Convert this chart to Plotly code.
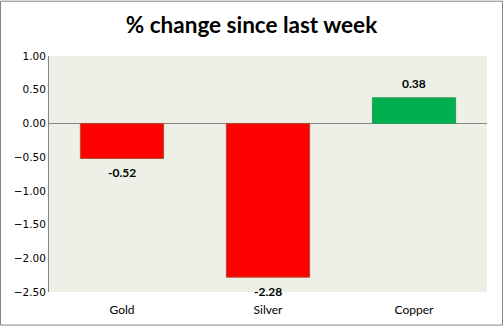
import plotly.graph_objects as go

categories = ["Gold", "Silver", "Copper"]
values = [-0.52, -2.28, 0.38]
bar_colors = ["#FF0000", "#FF0000", "#00B050"]
border_colors = ["#B0502E", "#B0502E", "#2E9A50"]
tick_vals = [1.0, 0.5, 0.0, -0.5, -1.0, -1.5, -2.0, -2.5]
title_text = "% change since last week"

fig = go.Figure()
fig.add_trace(go.Bar(
    x=categories, y=values,
    marker=dict(color=bar_colors, line=dict(color=border_colors, width=1)),
    width=0.57,
))

for c, v in zip(categories, values):
    fig.add_annotation(
        x=c, y=v, text=f"{v:.2f}", showarrow=False,
        yshift=14 if v > 0 else -14,
        font=dict(family="Lato", size=12, color="#000000", weight="bold"),
    )

W, H = 503, 329
l, r, t, b = 49, 16, 56, 34
pw, ph = W - l - r, H - t - b

fig.add_shape(
    type="rect", xref="paper", yref="paper",
    x0=(0.5 - l) / pw, x1=(W - 0.5 - l) / pw,
    y0=(H - b - (H - 0.5)) / ph, y1=(H - b - 0.5) / ph,
    line=dict(color="#868686", width=1), fillcolor="rgba(0,0,0,0)", layer="below",
)

fig.update_layout(
    width=W, height=H,
    margin=dict(l=l, r=r, t=t, b=b),
    paper_bgcolor="#FFFFFF",
    plot_bgcolor="#EEF0E8",
    showlegend=False,
    title=dict(text=title_text, x=0.5, xref="container", xanchor="center",
               y=1 - 25 / H, yanchor="middle",
               font=dict(family="Lato", size=22.5, color="#000000", weight="bold")),
    xaxis=dict(showgrid=False, showline=False, ticks="", ticklabelstandoff=9,
               tickfont=dict(family="Lato", size=12, color="#000000")),
    yaxis=dict(range=[-2.5, 1.0], tickvals=tick_vals, tickformat=".2f",
               showgrid=False, showline=True, linecolor="#868686", linewidth=1,
               ticks="", zeroline=True, zerolinecolor="#868686", zerolinewidth=1,
               tickfont=dict(family="DejaVu Sans", size=10.5, color="#000000")),
)

fig.write_html("out.html")
